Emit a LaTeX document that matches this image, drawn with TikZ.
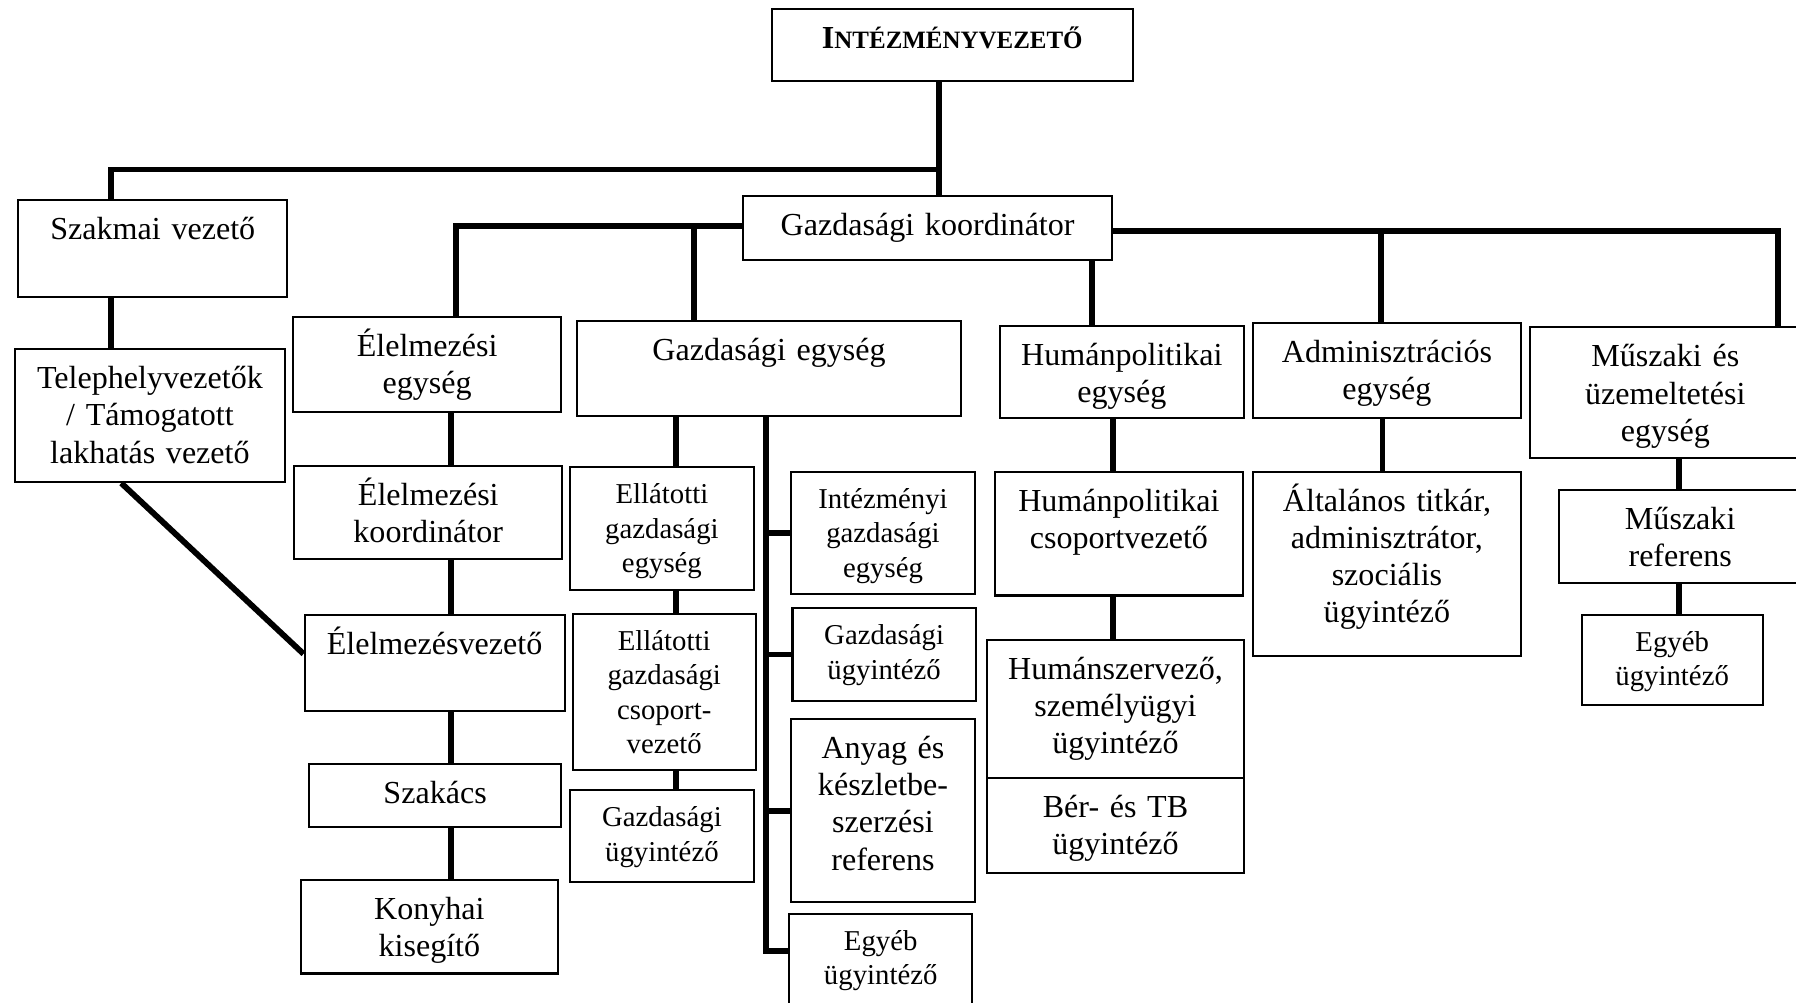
\documentclass[tikz,border=0pt]{standalone}
\usepackage{fontspec}
\setmainfont{Liberation Serif}
\usepackage{tikz}
\newlength{\unitpx}
\setlength{\unitpx}{0.45pt} % one pixel of the scanned chart
\newcommand{\boxfont}{\fontsize{12.6}{14.6}\selectfont}
\newcommand{\smallboxfont}{\fontsize{11.3}{13.5}\selectfont}
\tikzset{
    box/.style 2 args={ % framed unit: #1 = width, #2 = height, text at the top
        draw,
        line width=0.8pt,
        anchor=north west,
        align=center,
        inner sep=0pt,
        minimum width=#1*\unitpx,
        text width=#1*\unitpx-6pt,
        text height=15.5pt,
        text depth=#2*\unitpx-15.5pt,
        font=\boxfont
    },
    smallbox/.style 2 args={ % same with the smaller lettering
        box={#1}{#2},
        text height=14.4pt,
        text depth=#2*\unitpx-14.4pt,
        font=\smallboxfont
    },
    link/.style={line width=2.3pt} % the heavy connecting lines
}

\begin{document}
\begin{tikzpicture}[x=0.45pt, y=-0.45pt]
            \useasboundingbox (0,0) rectangle (1568,875);
            \clip (0,0) rectangle (1568,875);

            % top levels
            \node[box={315}{63}] (intez) at (673,7) {\textbf{I\fontsize{9.8}{12}\selectfont NTÉZMÉNYVEZETŐ}};
            \node[box={235}{84}] (szakmai) at (15,174) {Szakmai vezető};
            \node[box={236}{116}] (telep) at (12,304) {Telephelyvezetők\\ / Támogatott\\ lakhatás vezető};
            \node[box={322}{56}] (koord) at (648,170) {Gazdasági koordinátor};

            % units
            \node[box={234}{83}] (elegy) at (255,276) {Élelmezési\\ egység};
            \node[box={335}{83}] (gegy) at (503,279) {Gazdasági egység};
            \node[box={213}{80}] (hegy) at (872,284) {Humánpolitikai\\ egység};
            \node[box={234}{83}] (aegy) at (1093,281) {Adminisztrációs\\ egység};
            \node[box={236}{114}] (megy) at (1335,285) {Műszaki és\\ üzemeltetési\\ egység};

            % kitchen
            \node[box={234}{81}] (elkoord) at (256,406) {Élelmezési\\ koordinátor};
            \node[box={227}{84}] (elvez) at (265,536) {Élelmezésvezető};
            \node[box={220}{55}] (szakacs) at (269,666) {Szakács};
            \node[box={224}{82}] (konyha) at (262,767) {Konyhai\\ kisegítő};

            % economic unit
            \node[smallbox={160}{107}] (ellegy) at (497,407) {Ellátotti\\ gazdasági\\ egység};
            \node[smallbox={160}{136}] (ellcsop) at (499,535) {Ellátotti\\ gazdasági\\ csoport-\\ vezető};
            \node[smallbox={160}{80}] (ellugy) at (497,689) {Gazdasági\\ ügyintéző};
            \node[smallbox={160}{107}] (intgegy) at (690,411) {Intézményi\\ gazdasági\\ egység};
            \node[smallbox={160}{81}] (gugy) at (691,530) {Gazdasági\\ ügyintéző};
            \node[box={160}{160}] (anyag) at (690,627) {Anyag és\\ készletbe-\\ szerzési\\ referens};
            \node[smallbox={160}{100}] (egyeb1) at (688,797) {Egyéb\\ ügyintéző};

            % human resources, administration, technical
            \node[box={216}{108}] (hcsop) at (868,411) {Humánpolitikai\\ csoportvezető};
            \node[box={224}{120}] (humsz) at (861,558) {Humánszervező,\\ személyügyi\\ ügyintéző};
            \node[box={224}{83}] (ber) at (861,678) {Bér- és TB\\ ügyintéző};
            \node[box={234}{161}] (altal) at (1093,411) {Általános titkár,\\ adminisztrátor,\\ szociális\\ ügyintéző};
            \node[box={212}{81}] (mref) at (1360,427) {Műszaki\\ referens};
            \node[smallbox={158}{79}] (egyeb2) at (1380,536) {Egyéb\\ ügyintéző};

            % junctions and columns of the lines
            \coordinate (jTop) at (820,148);
            \coordinate (jSz) at (97,148);
            \coordinate (jEl) at (398,197);
            \coordinate (jGe) at (606,197);
            \coordinate (jAd) at (1206,202);
            \coordinate (jMu) at (1552,202);
            \coordinate (xHu) at (953,0);
            \coordinate (xFood) at (394,0);
            \coordinate (xEll) at (590,0);
            \coordinate (xGeb) at (669,0);
            \coordinate (xHum) at (972,0);
            \coordinate (xAdm) at (1207,0);
            \coordinate (xMus) at (1466,0);

            \draw[link] (intez.south -| jTop) -- (koord.north -| jTop);
            \draw[link] (jTop) -| (szakmai.north -| jSz);
            \draw[link] (szakmai.south -| jSz) -- (telep.north -| jSz);
            \draw[link] ([xshift=-25*\unitpx]telep.south) -- ([yshift=3.6pt]elvez.west);

            \draw[link] (koord.west |- jEl) -- (jEl) -- (elegy.north -| jEl);
            \draw[link] (jGe) -- (gegy.north -| jGe);
            \foreach \a/\b in {elegy/elkoord, elkoord/elvez, elvez/szakacs, szakacs/konyha}
                \draw[link] (\a.south -| xFood) -- (\b.north -| xFood);
            \foreach \a/\b in {gegy/ellegy, ellegy/ellcsop, ellcsop/ellugy}
                \draw[link] (\a.south -| xEll) -- (\b.north -| xEll);
            \draw[link] (gegy.south -| xGeb) |- ([yshift=-33*\unitpx]egyeb1.north west);
            \foreach \n in {intgegy, gugy, anyag}
                \draw[link] (\n.west -| xGeb) -- (\n.west);

            \draw[link] (koord.east |- jMu) -- (jMu) -- (megy.north -| jMu);
            \draw[link] (jAd) -- (aegy.north -| jAd);
            \draw[link] (koord.south -| xHu) -- (hegy.north -| xHu);
            \draw[link] (hegy.south -| xHum) -- (hcsop.north -| xHum);
            \draw[link] (hcsop.south -| xHum) -- (humsz.north -| xHum);
            \draw[link] (aegy.south -| xAdm) -- (altal.north -| xAdm);
            \draw[link] (megy.south -| xMus) -- (mref.north -| xMus);
            \draw[link] (mref.south -| xMus) -- (egyeb2.north -| xMus);

        \end{tikzpicture}
\end{document}
